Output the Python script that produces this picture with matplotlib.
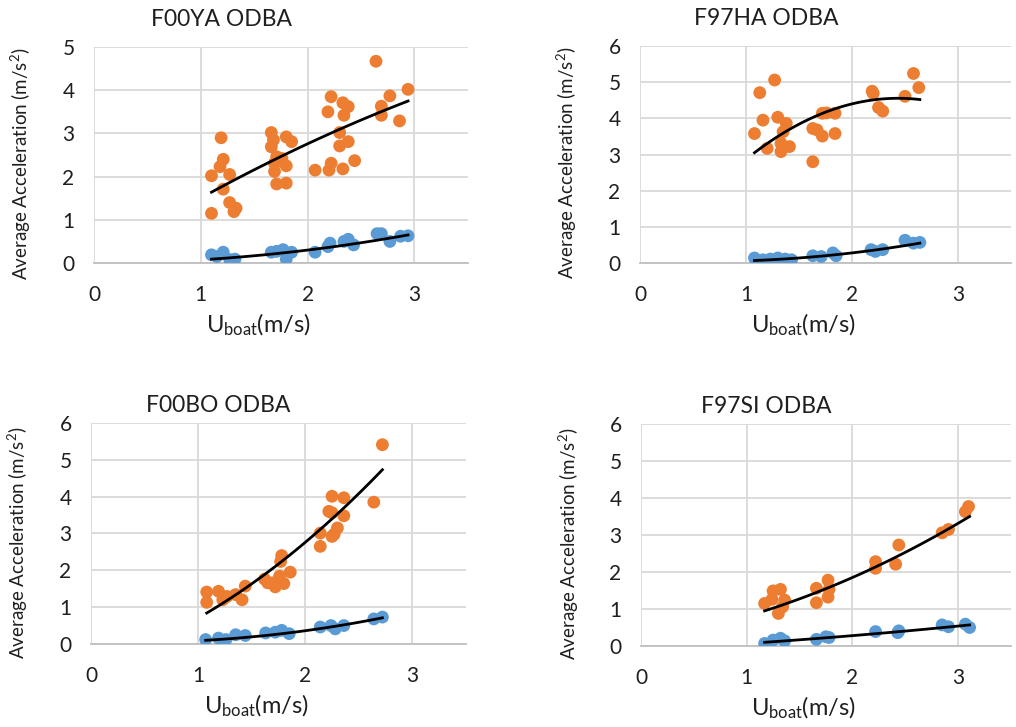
import numpy as np
import matplotlib
matplotlib.use('Agg')
from matplotlib import pyplot as plt

plt.rcParams['font.family'] = ['Lato', 'DejaVu Sans']
plt.rcParams['mathtext.fontset'] = 'custom'
plt.rcParams['mathtext.rm'] = 'Lato'
plt.rcParams['mathtext.it'] = 'Lato:italic'

# Данные (скорость лодки, м/с; ускорение, м/с^2)
titles = ['F00YA ODBA', 'F97HA ODBA', 'F00BO ODBA', 'F97SI ODBA']
y_maxes = [5, 6, 6, 6]

f00ya_orange_u = [1.10, 1.10, 1.19, 1.21, 1.18, 1.27, 1.21, 1.27, 1.31, 1.33,
                  1.66, 1.68, 1.66, 1.71, 1.69, 1.69, 1.71, 1.80, 1.80, 1.85,
                  1.80, 1.76, 2.07, 2.20, 2.22, 2.19, 2.22, 2.33, 2.38, 2.34,
                  2.30, 2.30, 2.38, 2.33, 2.44, 2.64, 2.69, 2.69, 2.77, 2.86, 2.94]
f00ya_orange_a = [1.15, 2.02, 2.90, 2.40, 2.23, 2.05, 1.71, 1.40, 1.19, 1.27,
                  3.02, 2.85, 2.69, 2.46, 2.31, 2.12, 1.83, 1.85, 2.92, 2.81,
                  2.25, 2.42, 2.15, 2.15, 2.31, 3.50, 3.85, 3.71, 3.62, 3.42,
                  3.02, 2.71, 2.81, 2.18, 2.37, 4.67, 3.63, 3.42, 3.87, 3.29, 4.02]
f00ya_blue_u = [1.10, 1.15, 1.21, 1.27, 1.32, 1.66, 1.71, 1.77, 1.80, 1.85,
                2.07, 2.19, 2.21, 2.34, 2.38, 2.43, 2.65, 2.69, 2.77, 2.87, 2.94]
f00ya_blue_a = [0.19, 0.15, 0.25, 0.08, 0.09, 0.25, 0.27, 0.31, 0.09, 0.25,
                0.25, 0.38, 0.46, 0.50, 0.55, 0.42, 0.68, 0.68, 0.50, 0.62, 0.63]

f97ha_orange_u = [1.08, 1.13, 1.16, 1.20, 1.27, 1.30, 1.38, 1.35, 1.33, 1.33,
                  1.41, 1.63, 1.63, 1.67, 1.72, 1.72, 1.76, 1.84, 1.84, 2.19,
                  2.20, 2.25, 2.29, 2.50, 2.58, 2.63]
f97ha_orange_a = [3.58, 4.71, 3.95, 3.17, 5.06, 4.03, 3.86, 3.63, 3.31, 3.08,
                  3.22, 2.80, 3.72, 3.68, 3.51, 4.14, 4.15, 4.14, 3.58, 4.75,
                  4.69, 4.30, 4.20, 4.61, 5.24, 4.85]
f97ha_blue_u = [1.08, 1.16, 1.23, 1.30, 1.37, 1.43, 1.63, 1.71, 1.82, 1.85,
                2.18, 2.22, 2.29, 2.50, 2.58, 2.64]
f97ha_blue_a = [0.14, 0.09, 0.11, 0.14, 0.11, 0.09, 0.20, 0.18, 0.28, 0.20,
                0.37, 0.32, 0.37, 0.63, 0.55, 0.57]

f00bo_orange_u = [1.08, 1.08, 1.19, 1.23, 1.27, 1.35, 1.41, 1.44, 1.62, 1.65,
                  1.69, 1.72, 1.78, 1.77, 1.76, 1.80, 1.86, 2.14, 2.14, 2.22,
                  2.25, 2.25, 2.27, 2.25, 2.30, 2.36, 2.36, 2.64, 2.72]
f00bo_orange_a = [1.41, 1.13, 1.43, 1.20, 1.29, 1.34, 1.20, 1.57, 1.76, 1.66,
                  1.66, 1.55, 2.40, 2.24, 1.84, 1.64, 1.95, 2.65, 3.01, 3.60,
                  3.56, 4.01, 2.98, 2.92, 3.15, 3.97, 3.48, 3.85, 5.41]
f00bo_blue_u = [1.07, 1.19, 1.26, 1.35, 1.44, 1.63, 1.72, 1.78, 1.85, 2.14,
                2.24, 2.28, 2.36, 2.64, 2.72]
f00bo_blue_a = [0.12, 0.16, 0.12, 0.25, 0.23, 0.30, 0.32, 0.37, 0.28, 0.46,
                0.50, 0.41, 0.50, 0.68, 0.73]

f97si_orange_u = [1.17, 1.25, 1.24, 1.32, 1.36, 1.30, 1.34, 1.66, 1.66, 1.77,
                  1.78, 1.77, 2.22, 2.22, 2.41, 2.44, 2.85, 2.91, 3.07, 3.10]
f97si_orange_a = [1.15, 1.49, 1.26, 1.53, 1.24, 0.88, 1.06, 1.56, 1.17, 1.78,
                  1.53, 1.32, 2.28, 2.10, 2.21, 2.73, 3.06, 3.15, 3.63, 3.77]
f97si_blue_u = [1.17, 1.25, 1.32, 1.36, 1.66, 1.75, 1.78, 2.22, 2.43, 2.44,
                2.85, 2.91, 3.07, 3.11]
f97si_blue_a = [0.07, 0.16, 0.21, 0.14, 0.18, 0.25, 0.23, 0.39, 0.36, 0.41,
                0.57, 0.52, 0.59, 0.50]

# Линии тренда: три точки (начало, середина, конец)
f00ya_orange_trend = ([1.10, 2.00, 2.94], [1.64, 2.76, 3.75])
f00ya_blue_trend = ([1.10, 2.00, 2.94], [0.09, 0.30, 0.65])
f97ha_orange_trend = ([1.08, 2.00, 2.64], [3.05, 4.40, 4.52])
f97ha_blue_trend = ([1.08, 2.00, 2.64], [0.07, 0.28, 0.55])
f00bo_orange_trend = ([1.08, 2.00, 2.72], [0.84, 2.76, 4.73])
f00bo_blue_trend = ([1.07, 2.00, 2.72], [0.10, 0.36, 0.71])
f97si_orange_trend = ([1.17, 2.00, 3.11], [0.95, 1.85, 3.50])
f97si_blue_trend = ([1.17, 2.00, 3.11], [0.10, 0.28, 0.57])

panels = [
    (f00ya_orange_u, f00ya_orange_a, f00ya_blue_u, f00ya_blue_a,
     f00ya_orange_trend, f00ya_blue_trend),
    (f97ha_orange_u, f97ha_orange_a, f97ha_blue_u, f97ha_blue_a,
     f97ha_orange_trend, f97ha_blue_trend),
    (f00bo_orange_u, f00bo_orange_a, f00bo_blue_u, f00bo_blue_a,
     f00bo_orange_trend, f00bo_blue_trend),
    (f97si_orange_u, f97si_orange_a, f97si_blue_u, f97si_blue_a,
     f97si_orange_trend, f97si_blue_trend),
]

# Положение осей (в долях фигуры)
positions = [
    [0.0925, 0.6382, 0.368, 0.2971],
    [0.6299, 0.6382, 0.3652, 0.2985],
    [0.0896, 0.1142, 0.369, 0.304],
    [0.6309, 0.1114, 0.364, 0.3054],
]
title_pads = [15, 15, 8, 8]

orange = '#ED7D31'
blue = '#5B9BD5'
text_c = '#1f1f1f'

fig = plt.figure(figsize=(10.16, 7.27), dpi=100)

for i, (ou, oa, bu, ba, o_tr, b_tr) in enumerate(panels):
    ax = fig.add_axes(positions[i])
    ax.scatter(ou, oa, s=85, color=orange, edgecolors='none', zorder=3)
    ax.scatter(bu, ba, s=85, color=blue, edgecolors='none', zorder=3)

    # Полиномиальные линии тренда 2-й степени через считанные точки
    for tu, ta in (o_tr, b_tr):
        coef = np.polyfit(tu, ta, 2)
        xs = np.linspace(tu[0], tu[-1], 100)
        ax.plot(xs, np.polyval(coef, xs), color='black', lw=2, zorder=4)

    ax.set_xlim(0, 3.5)
    ax.set_ylim(0, y_maxes[i])
    ax.set_xticks([0, 1, 2, 3])
    ax.set_yticks(range(0, y_maxes[i] + 1))
    ax.grid(True, color='#d9d9d9', lw=1.3)
    ax.set_axisbelow(True)
    for side in ['top', 'right', 'left']:
        ax.spines[side].set_visible(False)
    ax.spines['bottom'].set_color('#bfbfbf')
    ax.spines['bottom'].set_linewidth(1.3)
    ax.tick_params(axis='both', length=0, labelsize=15, colors=text_c)
    ax.tick_params(axis='x', pad=16)
    ax.tick_params(axis='y', pad=14)

    ax.set_title(titles[i], fontsize=16.5, color=text_c, x=0.34, pad=title_pads[i])
    ax.set_ylabel('Average Acceleration (m/s$^{2}$)', fontsize=13.5, color=text_c)
    ax.yaxis.set_label_coords(-0.163, 0.46)
    ax.set_xlabel(r'U$_{\mathrm{boat}}$(m/s)', fontsize=17, color=text_c, labelpad=5)
    ax.xaxis.label.set_x(0.44)

plt.savefig('out.png', dpi=100)
